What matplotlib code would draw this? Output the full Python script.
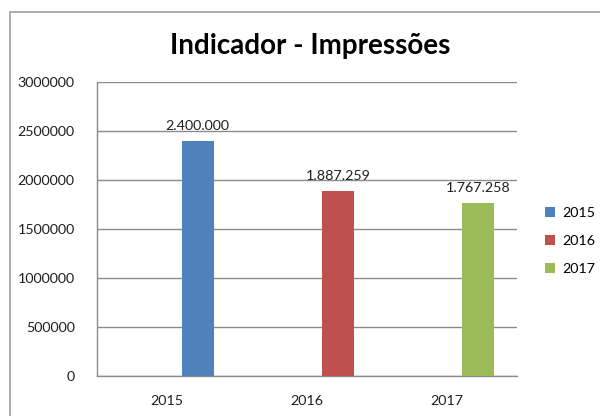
import numpy as np
import matplotlib
matplotlib.use("Agg")
import matplotlib.pyplot as plt
from matplotlib.patches import Rectangle, Patch

plt.rcParams['font.family'] = ['Lato', 'DejaVu Sans']

title = "Indicador - Impressões"
categories = ["2015", "2016", "2017"]
series_names = ["2015", "2016", "2017"]
values = [2400000, 1887259, 1767258]
colors = ["#4F81BD", "#C0504D", "#9BBB59"]
yticks = [0, 500000, 1000000, 1500000, 2000000, 2500000, 3000000]

fig = plt.figure(figsize=(6.0, 4.16), dpi=100)
fig.patch.set_facecolor("white")

# chart area border (Excel chart frame)
fig.patches.append(Rectangle((10/600, -0.05), 1.2, 1 - 12/416 + 0.05,
                             transform=fig.transFigure, fill=False,
                             edgecolor="#a6a6a6", linewidth=1.3, zorder=0))

ax = fig.add_axes([97/600, 1 - 376/416, 420/600, 294/416])
x = np.arange(len(categories))
offset = 0.22
width = 0.225
for i, (name, v, c) in enumerate(zip(series_names, values, colors)):
    ax.bar(x[i] + offset, v, width=width, color=c, label=name, zorder=3)
    ax.text(x[i] + offset, v + 90000, f"{v:,.0f}".replace(",", "."),
            ha="center", va="bottom", fontsize=10.3, color="#202020")

ax.set_xlim(-0.5, 2.5)
ax.set_ylim(0, 3000000)
ax.set_xticks(x)
ax.set_xticklabels(categories)
ax.set_yticks(yticks)
ax.set_yticklabels([str(t) for t in yticks])
ax.tick_params(axis="both", length=0, labelsize=10.3, colors="#202020")
ax.tick_params(axis="y", pad=16)
ax.tick_params(axis="x", pad=14)
ax.yaxis.grid(True, color="#8c8c8c", linewidth=1.0, zorder=0)
ax.set_axisbelow(True)
for s in ["top", "right"]:
    ax.spines[s].set_visible(False)
for s in ["left", "bottom"]:
    ax.spines[s].set_color("#8c8c8c")
    ax.spines[s].set_linewidth(1.0)

fig.text(310/600, 1 - 46/416, title, ha="center", va="center",
         fontsize=20, fontweight="bold", color="#000000")

handles = [Patch(facecolor=c, edgecolor="none") for c in colors]
leg = fig.legend(handles, series_names, loc="center left",
                 bbox_to_anchor=(532/600, 1 - 241/416), frameon=False,
                 fontsize=10.3, handlelength=0.7, handleheight=0.7,
                 handletextpad=0.5, labelspacing=1.15)

fig.savefig("out.png", dpi=100, facecolor="white")
